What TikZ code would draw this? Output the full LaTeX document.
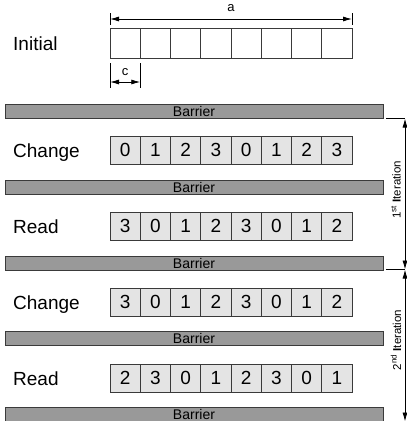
\documentclass[tikz,border=0pt]{standalone}
\usepackage{fontspec}
\setmainfont{Liberation Sans}
\usetikzlibrary{arrows.meta}
\definecolor{barfill}{HTML}{999999}
\definecolor{cellfill}{HTML}{E4E4E4}
\definecolor{edge}{HTML}{3A3A3A}
\begin{document}
\begin{tikzpicture}[x=1pt,y=-1pt,
  cellbox/.style={draw=edge, fill=cellfill, minimum width=30.25pt, minimum height=28pt, inner sep=0pt, line width=0.8pt, font=\fontsize{19}{19}\selectfont},
  emptycell/.style={cellbox, fill=white, minimum height=30pt},
  barrierbox/.style={draw=edge, fill=barfill, minimum width=378pt, minimum height=14pt, inner sep=0pt, line width=0.8pt, font=\fontsize{14}{14}\selectfont},
  rowlabel/.style={anchor=base west, inner sep=0pt, font=\fontsize{19}{19}\selectfont},
  dimtext/.style={inner sep=0pt, font=\fontsize{13}{13}\selectfont},
  itertext/.style={inner sep=0pt, rotate=90, font=\fontsize{11.5}{11.5}\selectfont},
  dimline/.style={{Latex[length=9pt,width=5pt]}-{Latex[length=9pt,width=5pt]}, line width=0.8pt},
  thinline/.style={line width=0.8pt}]
\useasboundingbox (0,0) rectangle (407,421);

% initial row
\node[rowlabel] (lInit) at (13,50) {Initial};
\foreach \i in {1,...,8}
  \node[emptycell] (i\i) at ({110+30.25*(\i-0.5)},43) {};

% dimension a
\coordinate (aT1) at (110,13);
\coordinate (aB1) at (110,25);
\coordinate (aT2) at (352,13);
\coordinate (aB2) at (352,25);
\coordinate (aL) at (110,19);
\coordinate (aR) at (352,19);
\draw[thinline] (aT1) -- (aB1);
\draw[thinline] (aT2) -- (aB2);
\draw[dimline] (aL) -- (aR);
\node[dimtext] (la) at (231,8) {a};

% dimension c
\coordinate (cT1) at (110,63);
\coordinate (cB1) at (110,88);
\coordinate (cT2) at (140.25,63);
\coordinate (cB2) at (140.25,88);
\coordinate (cL) at (110,82);
\coordinate (cR) at (140.25,82);
\draw[thinline] (cT1) -- (cB1);
\draw[thinline] (cT2) -- (cB2);
\draw[dimline] (cL) -- (cR);
\node[dimtext] (lc) at (125,72) {c};

% barriers
\foreach \k/\y in {1/111.5,2/187.25,3/263,4/338.75,5/414.5}
  \node[barrierbox] (b\k) at (194,\y) {Barrier};

% rows
\node[rowlabel] (l1) at (13,157) {Change};
\foreach \v [count=\i] in {0,1,2,3,0,1,2,3}
  \node[cellbox] (r1c\i) at ({110+30.25*(\i-0.5)},150) {\v};
\node[rowlabel] (l2) at (13,233) {Read};
\foreach \v [count=\i] in {3,0,1,2,3,0,1,2}
  \node[cellbox] (r2c\i) at ({110+30.25*(\i-0.5)},226) {\v};
\node[rowlabel] (l3) at (13,309) {Change};
\foreach \v [count=\i] in {3,0,1,2,3,0,1,2}
  \node[cellbox] (r3c\i) at ({110+30.25*(\i-0.5)},302) {\v};
\node[rowlabel] (l4) at (13,385) {Read};
\foreach \v [count=\i] in {2,3,0,1,2,3,0,1}
  \node[cellbox] (r4c\i) at ({110+30.25*(\i-0.5)},378) {\v};

% iterations
\coordinate (h1) at (386,118.5);
\coordinate (it1) at (405,118.5);
\coordinate (h3) at (386,269.5);
\coordinate (it3) at (405,269.5);
\coordinate (it5) at (405,421.5);
\draw[thinline] (h1) -- (it1);
\draw[thinline] (h3) -- (it3);
\draw[dimline] (it1) -- (it3);
\draw[dimline] (it3) -- (it5);
\node[itertext] (t1) at (396,190) {1\textsuperscript{st} \textbf{I}teration};
\node[itertext] (t2) at (396,340) {2\textsuperscript{nd} \textbf{I}teration};
\end{tikzpicture}
\end{document}
